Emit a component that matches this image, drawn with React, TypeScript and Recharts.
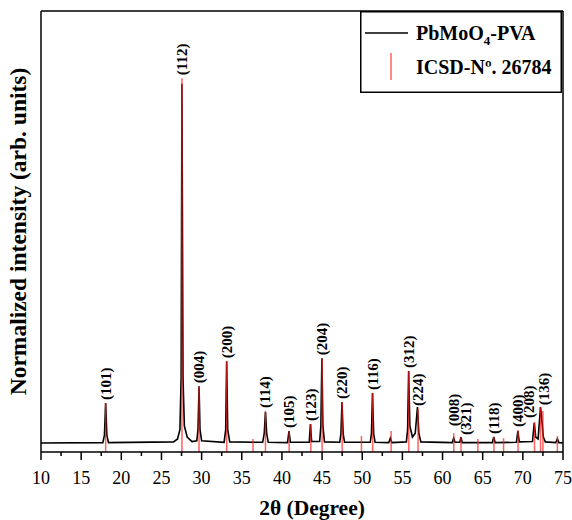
import React from "react";
import { ComposedChart, Line, Scatter, ErrorBar, XAxis, YAxis, ReferenceLine } from "recharts";

const curvePoints: [number, number][] = [
  [10.0, 0.024], [17.7, 0.025], [17.9, 0.045], [18.05, 0.131], [18.2, 0.045], [18.4, 0.025],
  [26.5, 0.027], [27.0, 0.035], [27.3, 0.06], [27.45, 0.2], [27.55, 0.985], [27.68, 0.2],
  [27.85, 0.07], [28.2, 0.04], [28.8, 0.028], [29.4, 0.03], [29.55, 0.06], [29.68, 0.176],
  [29.8, 0.06], [30.0, 0.03], [32.8, 0.026], [33.0, 0.06], [33.12, 0.243], [33.25, 0.06],
  [33.5, 0.027], [37.6, 0.026], [37.8, 0.05], [37.95, 0.107], [38.1, 0.05], [38.3, 0.026],
  [40.7, 0.025], [40.88, 0.056], [41.05, 0.026], [43.4, 0.026], [43.55, 0.075], [43.7, 0.028],
  [44.7, 0.028], [44.85, 0.07], [44.98, 0.251], [45.1, 0.07], [45.3, 0.027], [47.2, 0.026],
  [47.35, 0.05], [47.48, 0.134], [47.62, 0.05], [47.8, 0.026], [51.0, 0.026], [51.15, 0.05],
  [51.28, 0.158], [51.42, 0.05], [51.6, 0.026], [53.3, 0.025], [53.5, 0.037], [53.7, 0.025],
  [55.5, 0.027], [55.65, 0.06], [55.78, 0.217], [55.93, 0.07], [56.25, 0.04], [56.6, 0.05],
  [56.88, 0.12], [57.05, 0.05], [57.3, 0.027], [61.2, 0.025], [61.38, 0.037], [61.55, 0.026],
  [62.15, 0.026], [62.3, 0.04], [62.45, 0.025], [66.2, 0.025], [66.38, 0.04], [66.55, 0.025],
  [69.2, 0.026], [69.38, 0.056], [69.55, 0.027], [71.2, 0.028], [71.42, 0.078], [71.6, 0.04],
  [71.9, 0.035], [72.2, 0.12], [72.35, 0.09], [72.55, 0.04], [72.8, 0.027], [74.1, 0.025],
  [74.3, 0.035], [74.5, 0.025], [75.0, 0.024],
];

// ICSD No. 26784 reference reflections
const stickPos = [18.05, 27.55, 29.68, 33.12, 36.4, 37.95, 40.9, 43.6, 45.0, 47.5, 49.9, 51.3, 53.6,
  55.8, 56.95, 61.4, 62.3, 64.4, 66.4, 67.6, 69.4, 71.45, 72.2, 72.5, 74.3];
const stickInt = [0.131, 1.0, 0.176, 0.243, 0.035, 0.11, 0.056, 0.075, 0.251, 0.134, 0.043, 0.158, 0.056,
  0.217, 0.115, 0.05, 0.04, 0.035, 0.04, 0.037, 0.059, 0.08, 0.12, 0.11, 0.043];
const stickHkl = ["(101)", "(112)", "(004)", "(200)", "", "(114)", "(105)", "(123)", "(204)", "(220)", "",
  "(116)", "", "(312)", "(224)", "(008)", "(321)", "", "(118)", "", "(400)", "(208)", "(136)", "", ""];

const majorTicks = [10, 15, 20, 25, 30, 35, 40, 45, 50, 55, 60, 65, 70, 75];
const minorTicks = [12.5, 17.5, 22.5, 27.5, 32.5, 37.5, 42.5, 47.5, 52.5, 57.5, 62.5, 67.5, 72.5];
const allTicks = [...majorTicks, ...minorTicks].sort((a, b) => a - b);

const xDomain: [number, number] = [10, 75];
const yDomain: [number, number] = [0, 1.18];

const seriesNames = ["PbMoO", "-PVA", "ICSD-Nº. 26784"];
const xTitle = "2θ (Degree)";
const yTitle = "Normalized intensity (arb. units)";

// label style tweaks (pixel offsets)
const labelStyle: Record<string, { dx: number; gap: number }> = {
  "(008)": { dx: 0, gap: 7 },
  "(321)": { dx: 5, gap: 2 },
  "(208)": { dx: -5, gap: 4 },
  "(136)": { dx: 3, gap: 2 },
};

const curveData = curvePoints.map(([x, y]) => ({ x, curve: y }));
const stickData = stickPos.map((x, i) => ({ x, stick: stickInt[i], hkl: stickHkl[i], err: [stickInt[i], 0] }));

const FONT = "'Liberation Serif', 'Times New Roman', serif";
const RED = "#ff2020";

const XTick = (props: any) => {
  const { x, y, payload } = props;
  const v = payload.value;
  const major = majorTicks.includes(v);
  return (
    <g>
      <line x1={x} x2={x} y1={y} y2={y + (major ? 8 : 4)} stroke="#000" strokeWidth={1.5} />
      {major && (
        <text x={x} y={y + 32} textAnchor="middle" fontSize={18} fontFamily={FONT} fill="#000">
          {v}
        </text>
      )}
    </g>
  );
};

const HklShape = (props: any) => {
  const { cx, cy, payload } = props;
  const value = payload && payload.hkl;
  if (!value || cx == null || cy == null) return <g />;
  const st = labelStyle[value] || { dx: 0, gap: 3 };
  const lx = Number(cx) + st.dx;
  const ly = Number(cy) - st.gap;
  return (
    <text
      x={lx}
      y={ly}
      transform={`rotate(-90, ${lx}, ${ly})`}
      textAnchor="start"
      dominantBaseline="central"
      fontSize={15}
      fontWeight="bold"
      fontFamily={FONT}
      fill="#000"
    >
      {value}
    </text>
  );
};

const LegendBox = () => (
  <svg width={202} height={82} style={{ display: "block" }}>
    <rect x={0.75} y={0.75} width={200.5} height={80.5} fill="#fff" stroke="#000" strokeWidth={1.5} />
    <line x1={5} x2={48} y1={22} y2={22} stroke="#000" strokeWidth={1.5} />
    <text x={56} y={29} fontSize={20} fontWeight="bold" fontFamily={FONT} fill="#000">
      {seriesNames[0]}
      <tspan fontSize={13} dy={5}>4</tspan>
      <tspan dy={-5}>{seriesNames[1]}</tspan>
    </text>
    <line x1={31} x2={31} y1={42} y2={69} stroke={RED} strokeOpacity={0.7} strokeWidth={1.5} />
    <text x={56} y={63} fontSize={20} fontWeight="bold" fontFamily={FONT} fill="#000">
      {seriesNames[2]}
    </text>
  </svg>
);

export default function App() {
  return (
    <div style={{ position: "fixed", top: 0, left: 0, width: 572, height: 520, background: "#fff" }}>
      <ComposedChart
        width={572}
        height={520}
        margin={{ top: 11, right: 9, bottom: 0, left: 0 }}
        style={{ fontFamily: FONT }}
      >
        <XAxis
          dataKey="x"
          type="number"
          domain={xDomain}
          ticks={allTicks}
          interval={0}
          height={68}
          tickSize={0}
          tickMargin={0}
          tickLine={false}
          tick={<XTick />}
          axisLine={{ stroke: "#000", strokeWidth: 1.5 }}
          allowDataOverflow
          label={(p: any) => {
            const vb = p.viewBox;
            return (
              <text
                x={vb.x + vb.width / 2 + 10}
                y={vb.y + 63}
                textAnchor="middle"
                fontSize={21.5}
                fontWeight="bold"
                fontFamily={FONT}
                fill="#000"
              >
                {xTitle}
              </text>
            );
          }}
        />
        <YAxis
          type="number"
          domain={yDomain}
          width={41}
          tick={false}
          tickLine={false}
          axisLine={{ stroke: "#000", strokeWidth: 1.5 }}
          allowDataOverflow
          label={(p: any) => {
            const vb = p.viewBox;
            const cx = 18;
            const cy = vb.y + vb.height / 2;
            return (
              <text
                x={cx}
                y={cy}
                transform={`rotate(-90, ${cx}, ${cy})`}
                textAnchor="middle"
                dominantBaseline="central"
                fontSize={23.5}
                fontWeight="bold"
                fontFamily={FONT}
                fill="#000"
              >
                {yTitle}
              </text>
            );
          }}
        />
        <ReferenceLine y={yDomain[1]} stroke="#000" strokeWidth={1.5} />
        <ReferenceLine x={xDomain[1]} stroke="#000" strokeWidth={1.5} />
        <Line
          data={curveData}
          dataKey="curve"
          type="linear"
          stroke="#000"
          strokeWidth={1.6}
          dot={false}
          isAnimationActive={false}
        />
        <Scatter data={stickData} dataKey="stick" shape={<HklShape />} isAnimationActive={false}>
          <ErrorBar
            dataKey="err"
            direction="y"
            width={0}
            stroke={RED}
            strokeOpacity={0.7}
            strokeWidth={1.5}
            isAnimationActive={false}
          />
        </Scatter>
      </ComposedChart>
      <div style={{ position: "absolute", top: 11, left: 360 }}>
        <LegendBox />
      </div>
    </div>
  );
}
